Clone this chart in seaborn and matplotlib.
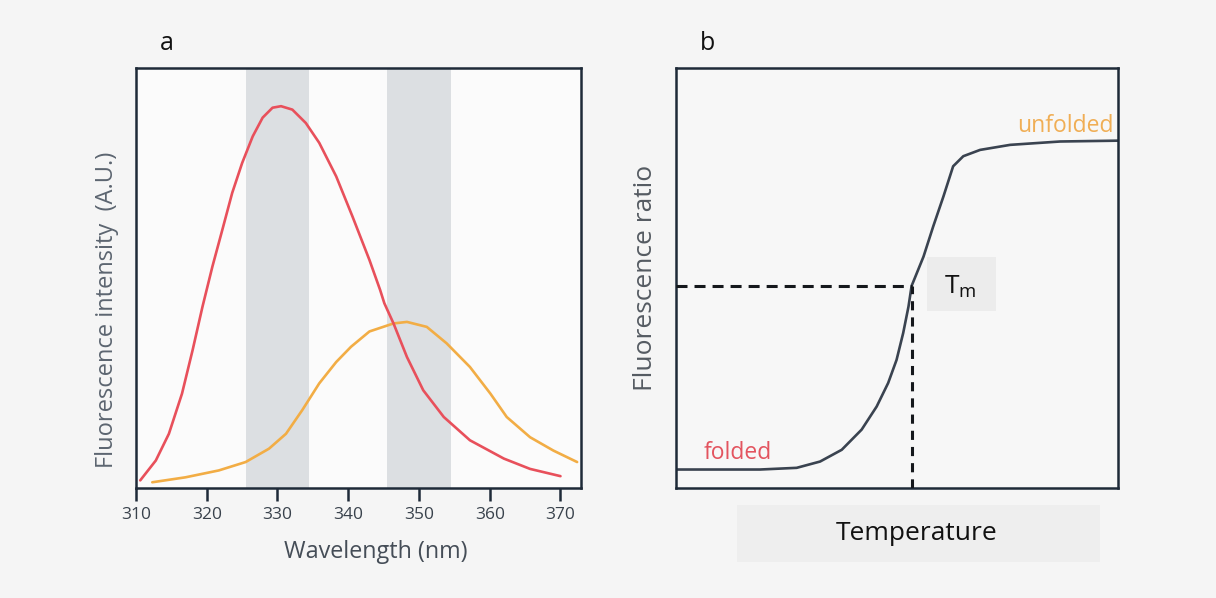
import matplotlib
matplotlib.use("Agg")
import matplotlib.pyplot as plt
import matplotlib.patches as mpatches
import seaborn as sns
import pandas as pd

# ---- panel a: emission spectra (normalised intensity) ----
folded_nm = [310.6, 312.8, 314.65, 316.5, 318.0, 319.4, 320.8, 322.2, 323.6, 325.0,
             326.5, 327.9, 329.3, 330.5, 332.1, 334.0, 335.9, 338.3, 340.6, 343.0,
             344.5, 345.1, 346.4, 348.3, 350.6, 353.5, 357.2, 362.0, 365.7, 370.0]
folded_int = [0.020, 0.072, 0.142, 0.247, 0.361, 0.475, 0.580, 0.676, 0.773, 0.851,
              0.921, 0.970, 0.996, 1.000, 0.991, 0.956, 0.904, 0.816, 0.711, 0.597,
              0.519, 0.484, 0.431, 0.343, 0.256, 0.186, 0.125, 0.077, 0.050, 0.031]

unfolded_nm = [312.3, 317.0, 321.7, 325.5, 328.8, 331.2, 333.5, 335.9, 338.3, 340.4,
               343.0, 346.4, 348.3, 351.1, 353.9, 357.2, 360.1, 362.4, 365.7, 369.0, 372.35]
unfolded_int = [0.015, 0.028, 0.046, 0.068, 0.103, 0.142, 0.204, 0.274, 0.330, 0.370,
                0.410, 0.431, 0.435, 0.422, 0.379, 0.317, 0.247, 0.186, 0.133, 0.098, 0.068]

bands_nm = [(325.5, 334.5), (345.5, 354.5)]
wl_ticks = [310, 320, 330, 340, 350, 360, 370]

# ---- panel b: thermal unfolding curve ----
temp = [0.0, 19.0, 27.3, 32.6, 37.5, 42.0, 45.4, 48.0, 49.9, 51.4, 52.6, 53.3, 56.0,
        58.2, 60.5, 62.7, 65.0, 68.8, 75.6, 86.9, 100.0]
ratio = [0.044, 0.044, 0.048, 0.063, 0.091, 0.139, 0.194, 0.250, 0.305, 0.369, 0.432,
         0.481, 0.551, 0.623, 0.694, 0.766, 0.790, 0.805, 0.817, 0.825, 0.827]
tm_temp = 53.3
tm_ratio = 0.481

RED = "#e8505b"
ORANGE = "#f2ad45"
SPINE = "#1e2a38"
CURVE = "#3a4350"

sns.set_theme(style="white")
plt.rcParams["font.family"] = ["Open Sans", "DejaVu Sans"]

fig = plt.figure(figsize=(12.16, 5.98), dpi=100, facecolor="#f5f5f5")
ax_a = fig.add_axes([136 / 1216, 1 - 488 / 598, 445 / 1216, 420 / 598])
ax_b = fig.add_axes([676 / 1216, 1 - 488 / 598, 442 / 1216, 420 / 598])

# -- panel a --
ax_a.set_facecolor("#fbfbfb")
for lo, hi in bands_nm:
    ax_a.axvspan(lo, hi, color="#dcdfe2", lw=0, zorder=0)

df_f = pd.DataFrame({"nm": folded_nm, "I": folded_int})
df_u = pd.DataFrame({"nm": unfolded_nm, "I": unfolded_int})
sns.lineplot(data=df_u, x="nm", y="I", ax=ax_a, color=ORANGE, lw=1.9)
sns.lineplot(data=df_f, x="nm", y="I", ax=ax_a, color=RED, lw=1.9)

ax_a.set_xlim(310, 372.9)
ax_a.set_ylim(0, 1.10)
ax_a.set_xticks(wl_ticks)
ax_a.set_xticklabels([str(t) for t in wl_ticks])
ax_a.set_yticks([])
ax_a.tick_params(axis="x", direction="out", length=9.5, width=1.8, color=SPINE,
                 labelsize=12.5, labelcolor="#39424c", pad=4, bottom=True)
ax_a.set_xlabel("Wavelength (nm)", fontsize=16.8, color="#454d57")
ax_a.xaxis.set_label_coords(0.538, -0.125)
ax_a.set_ylabel("Fluorescence intensity  (A.U.)", fontsize=17, color="#5c6570")
ax_a.yaxis.set_label_coords(-0.038, 0.424)

# -- panel b --
ax_b.set_facecolor("#f7f7f7")
df_b = pd.DataFrame({"T": temp, "R": ratio})
sns.lineplot(data=df_b, x="T", y="R", ax=ax_b, color=CURVE, lw=1.9)
ax_b.plot([0, tm_temp], [tm_ratio, tm_ratio], color="#15181c", lw=2.2,
          ls=(0, (3.6, 2.3)), zorder=3)
ax_b.plot([tm_temp, tm_temp], [0, tm_ratio], color="#15181c", lw=2.2,
          ls=(0, (3.0, 2.3)), zorder=3)
ax_b.set_xlim(0, 100)
ax_b.set_ylim(0, 1.0)
ax_b.set_xticks([])
ax_b.set_yticks([])
ax_b.set_xlabel("")
ax_b.set_ylabel("Fluorescence ratio", fontsize=19, color="#555b62")
ax_b.yaxis.set_label_coords(-0.040, 0.5)

ax_b.add_patch(mpatches.Rectangle((0.567, 0.421), 0.156, 0.128, transform=ax_b.transAxes,
                                  facecolor="#ececec", edgecolor="none", zorder=1))
ax_b.text(0.643, 0.478, r"$\mathregular{T_m}$", transform=ax_b.transAxes, fontsize=19,
          color="#111111", ha="center", va="center", zorder=4)
ax_b.text(0.990, 0.862, "unfolded", transform=ax_b.transAxes, fontsize=16.5,
          color="#f0ae55", ha="right", va="center")
ax_b.text(0.062, 0.084, "folded", transform=ax_b.transAxes, fontsize=16.5,
          color="#e3545f", ha="left", va="center")

for ax in (ax_a, ax_b):
    for s in ax.spines.values():
        s.set_visible(True)
        s.set_color(SPINE)
        s.set_linewidth(1.8)

# x label of panel b on a soft box
fig.patches.append(mpatches.Rectangle((737 / 1216, 1 - 562 / 598), 363 / 1216, 57 / 598,
                                      transform=fig.transFigure, facecolor="#eeeeee",
                                      edgecolor="none", zorder=0))
fig.text(917 / 1216, 1 - 534 / 598, "Temperature", fontsize=19, color="#111111",
         ha="center", va="center")

fig.text(167 / 1216, 1 - 43 / 598, "a", fontsize=18, color="#111111", ha="center", va="center")
fig.text(707 / 1216, 1 - 43 / 598, "b", fontsize=18, color="#111111", ha="center", va="center")

fig.savefig("out.png", dpi=100, facecolor=fig.get_facecolor())
